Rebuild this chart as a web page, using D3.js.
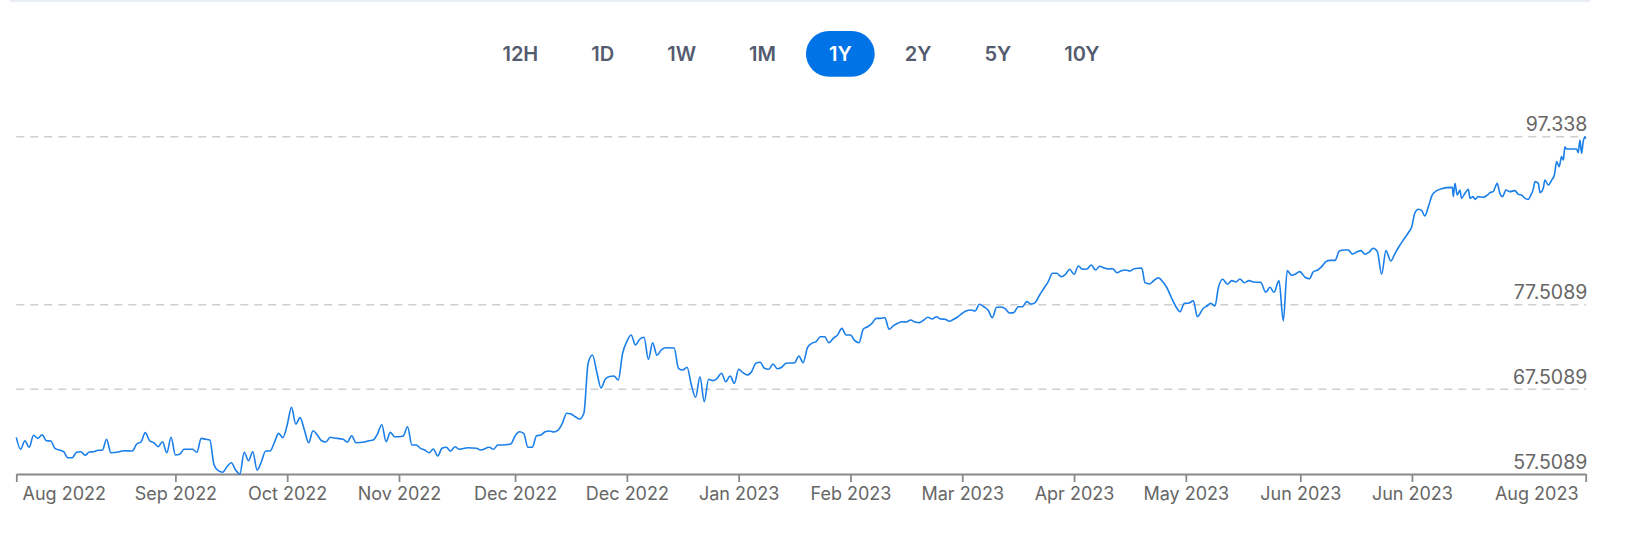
<!DOCTYPE html>
<html><head><meta charset="utf-8">
<script src="https://cdn.jsdelivr.net/npm/d3@7"></script>
<style>
html,body{margin:0;padding:0;background:#fff;}
svg{display:block;font-family:Inter,"Noto Sans",sans-serif;}
</style></head><body>
<svg id="chart" width="1630" height="550"></svg>
<script>
const ranges = ["12H","1D","1W","1M","1Y","2Y","5Y","10Y"];
const activeRange = "1Y";

const dates = [
"2022-08-08","2022-08-09","2022-08-10","2022-08-11","2022-08-12","2022-08-13","2022-08-14","2022-08-15","2022-08-16","2022-08-17","2022-08-19","2022-08-20","2022-08-21","2022-08-22","2022-08-23","2022-08-24","2022-08-25","2022-08-26","2022-08-27","2022-08-28","2022-08-29","2022-08-30",
"2022-09-01","2022-09-02","2022-09-04","2022-09-05","2022-09-06","2022-09-07","2022-09-08","2022-09-09","2022-09-10","2022-09-11","2022-09-12","2022-09-13","2022-09-14","2022-09-15","2022-09-16","2022-09-18","2022-09-19","2022-09-20","2022-09-21","2022-09-22","2022-09-23","2022-09-24","2022-09-25","2022-09-26","2022-09-27","2022-09-28","2022-09-29","2022-09-30",
"2022-10-01","2022-10-02","2022-10-03","2022-10-04","2022-10-05","2022-10-06","2022-10-07","2022-10-08","2022-10-09","2022-10-10","2022-10-11","2022-10-12","2022-10-13","2022-10-14","2022-10-15","2022-10-16","2022-10-17","2022-10-18","2022-10-19","2022-10-20","2022-10-21","2022-10-23","2022-10-24","2022-10-25","2022-10-26","2022-10-28","2022-10-29","2022-10-30","2022-10-31",
"2022-11-01","2022-11-02","2022-11-03","2022-11-04","2022-11-05","2022-11-06","2022-11-07","2022-11-08","2022-11-09","2022-11-10","2022-11-11","2022-11-12","2022-11-13","2022-11-14","2022-11-15","2022-11-16","2022-11-17","2022-11-18","2022-11-19","2022-11-21","2022-11-23","2022-11-24","2022-11-26","2022-11-27","2022-11-28","2022-11-29",
"2022-12-01","2022-12-02","2022-12-03","2022-12-04","2022-12-05","2022-12-06","2022-12-07","2022-12-08","2022-12-09","2022-12-10","2022-12-11","2022-12-12","2022-12-13","2022-12-14","2022-12-15","2022-12-16","2022-12-17","2022-12-18","2022-12-19","2022-12-20","2022-12-21","2022-12-22","2022-12-23","2022-12-24","2022-12-25","2022-12-26","2022-12-27","2022-12-28","2022-12-29","2022-12-30","2022-12-31",
"2023-01-01","2023-01-02","2023-01-03","2023-01-04","2023-01-05","2023-01-06","2023-01-08","2023-01-09","2023-01-10","2023-01-11","2023-01-12","2023-01-13","2023-01-14","2023-01-15","2023-01-16","2023-01-17","2023-01-18","2023-01-19","2023-01-20","2023-01-21","2023-01-22","2023-01-23","2023-01-24","2023-01-25","2023-01-26","2023-01-27","2023-01-28","2023-01-29","2023-01-30","2023-01-31",
"2023-02-01","2023-02-02","2023-02-03","2023-02-05","2023-02-06","2023-02-07","2023-02-08","2023-02-09","2023-02-10","2023-02-11","2023-02-12","2023-02-13","2023-02-14","2023-02-15","2023-02-16","2023-02-17","2023-02-18","2023-02-19","2023-02-20","2023-02-21","2023-02-22","2023-02-23","2023-02-24","2023-02-25","2023-02-26","2023-02-27","2023-02-28",
"2023-03-01","2023-03-02","2023-03-03","2023-03-04","2023-03-05","2023-03-06","2023-03-07","2023-03-08","2023-03-09","2023-03-10","2023-03-11","2023-03-12","2023-03-13","2023-03-14","2023-03-15","2023-03-16","2023-03-17","2023-03-18","2023-03-19","2023-03-20","2023-03-21","2023-03-22","2023-03-23","2023-03-24","2023-03-25","2023-03-26","2023-03-27","2023-03-28","2023-03-29","2023-03-30","2023-03-31",
"2023-04-01","2023-04-02","2023-04-03","2023-04-04","2023-04-05","2023-04-06","2023-04-07","2023-04-08","2023-04-09","2023-04-10","2023-04-11","2023-04-12","2023-04-13","2023-04-14","2023-04-15","2023-04-16","2023-04-17","2023-04-18","2023-04-19","2023-04-20","2023-04-21","2023-04-22","2023-04-23","2023-04-24","2023-04-25",
"2023-04-26 18","2023-04-27 12","2023-04-28 12","2023-04-29 11","2023-04-30 14",
"2023-05-01 15","2023-05-02 13","2023-05-03 17","2023-05-04 17","2023-05-05 16","2023-05-06 16","2023-05-07 14","2023-05-08 18","2023-05-09 16","2023-05-11 02","2023-05-12 00","2023-05-12 19","2023-05-13 19","2023-05-14 13","2023-05-15 14","2023-05-16 16","2023-05-17 16","2023-05-18 16","2023-05-19 14","2023-05-20 14","2023-05-21 17","2023-05-22 17","2023-05-24 10","2023-05-25 14","2023-05-26 14","2023-05-27 12","2023-05-28 16","2023-05-29 16","2023-05-30 14","2023-05-31 15",
"2023-06-01 13","2023-06-02 12","2023-06-03 18","2023-06-04 18","2023-06-05 16","2023-06-06 16","2023-06-07 14","2023-06-08 14","2023-06-09 13","2023-06-10 17","2023-06-11 17","2023-06-12 19","2023-06-13 19","2023-06-14 17","2023-06-15 18","2023-06-16 18","2023-06-17 16","2023-06-18 16","2023-06-19 14","2023-06-20 13","2023-06-21 13","2023-06-22 13","2023-06-23 16","2023-06-24 16","2023-06-25 16","2023-06-26 18","2023-06-27 18","2023-06-28 13","2023-06-29 07","2023-06-30 02","2023-06-30 21",
"2023-07-01 14","2023-07-02 09","2023-07-03 07","2023-07-04 08","2023-07-05 12","2023-07-06 17","2023-07-08 00",
"2023-07-08 05","2023-07-08 14","2023-07-09 03","2023-07-09 18","2023-07-10 03","2023-07-10 22","2023-07-11 17","2023-07-12 02","2023-07-12 20","2023-07-13 06","2023-07-14 00","2023-07-15 04","2023-07-16 03","2023-07-16 18","2023-07-17 12","2023-07-18 10","2023-07-19 01","2023-07-19 16","2023-07-20 11","2023-07-21 09","2023-07-22 13","2023-07-23 08","2023-07-24 02","2023-07-24 21","2023-07-25 15","2023-07-26 06","2023-07-26 19","2023-07-27 05","2023-07-27 23","2023-07-28 09","2023-07-29 03","2023-07-29 12","2023-07-30 07","2023-07-31 02","2023-07-31 17",
"2023-08-01 06","2023-08-01 20","2023-08-02 09","2023-08-02 19","2023-08-03 04","2023-08-03 13","2023-08-05 21","2023-08-06 06","2023-08-06 16","2023-08-07 01","2023-08-07 10","2023-08-07 20","2023-08-08 00"
];

const values = [
61.84,60.43,61.44,60.66,62.08,61.72,62.15,61.44,61.41,60.54,60.14,59.43,59.43,60.07,60.14,59.72,60.11,60.14,60.31,60.31,61.61,60.02,
60.14,60.26,60.22,61.05,61.29,62.39,61.44,61.20,60.73,61.32,60.02,61.84,59.75,59.83,60.43,60.43,60.07,61.72,61.61,61.52,58.57,57.90,57.71,58.37,58.84,57.98,57.51,60.07,
59.08,60.14,57.98,58.96,60.22,60.22,61.20,62.31,61.80,63.29,65.38,63.41,64.16,62.70,61.20,62.62,62.11,61.44,61.29,61.84,61.76,61.61,61.29,62.03,61.20,61.29,61.44,61.52,62.23,
63.33,61.32,62.43,61.91,61.91,62.00,63.09,60.93,60.93,60.54,60.34,60.02,60.46,59.63,60.54,60.66,60.22,60.73,60.43,60.61,60.54,60.34,60.66,60.43,60.93,60.93,
61.05,62.00,62.50,62.31,60.66,60.66,62.03,62.11,62.50,62.59,62.47,62.70,63.50,64.68,64.59,64.27,64.00,64.68,70.62,71.56,69.55,67.66,68.73,69.02,69.08,68.61,71.73,73.15,73.92,72.74,73.42,
73.65,71.05,73.01,71.53,72.15,72.42,72.39,69.99,69.79,70.11,68.02,66.57,69.00,66.05,68.69,68.53,68.81,69.40,68.41,69.08,68.22,69.87,69.47,69.20,69.59,70.58,70.70,69.99,69.87,70.50,
69.94,70.11,70.58,70.65,71.44,70.65,72.42,72.94,73.13,73.72,73.72,73.01,73.53,73.92,74.71,73.92,73.92,73.25,73.01,74.63,74.90,75.30,75.89,75.89,75.97,74.60,75.02,
75.30,75.49,75.46,75.69,75.46,75.38,75.66,76.01,75.81,76.08,75.81,75.78,75.54,75.78,76.08,76.49,76.79,76.87,76.76,77.55,77.26,76.87,75.97,77.19,77.23,77.03,76.52,76.56,77.26,77.26,77.86,
77.58,77.78,78.65,79.44,80.22,81.21,81.21,80.81,81.09,81.68,81.09,82.07,81.68,81.72,82.19,81.60,82.04,81.83,81.72,81.75,81.28,81.52,81.60,81.48,81.75,
81.83,80.10,79.95,80.30,80.69,
80.22,79.56,78.26,77.26,76.67,77.67,77.67,77.97,76.08,77.08,77.38,77.67,77.35,79.44,80.50,79.91,80.34,80.18,80.54,80.10,80.34,80.18,80.14,78.97,79.56,78.97,80.34,75.58,81.52,80.97,
81.13,81.40,80.74,80.57,81.40,81.60,81.99,82.58,82.74,82.74,83.84,83.96,83.96,83.49,83.72,83.88,83.45,83.72,84.16,83.76,81.09,83.88,82.66,83.57,84.43,85.26,86.00,86.71,88.36,88.77,88.60,
87.97,89.00,90.45,90.96,91.20,91.32,91.36,
90.26,91.83,90.45,91.04,90.06,90.65,91.12,90.06,90.26,89.94,90.26,90.18,90.45,90.73,90.85,91.83,90.65,90.26,91.04,90.85,90.97,90.53,90.45,90.06,89.94,90.45,91.12,92.03,91.83,90.73,91.24,92.22,91.63,92.22,92.81,
94.39,93.80,94.98,94.59,96.16,95.89,95.89,95.45,96.95,95.37,96.75,97.338,97.10
];

const yTickValues = [57.5089, 67.5089, 77.5089, 97.338];
const yTickLabels = ["57.5089", "67.5089", "77.5089", "97.338"];
const xTickDates = ["2022-08-08","2022-09-14","2022-10-10","2022-11-05","2022-12-02","2022-12-28","2023-01-23","2023-02-18","2023-03-16","2023-04-11","2023-05-07","2023-06-02 15","2023-06-28 14","2023-08-08"];
const xTickLabels = ["Aug 2022","Sep 2022","Oct 2022","Nov 2022","Dec 2022","Dec 2022","Jan 2023","Feb 2023","Mar 2023","Apr 2023","May 2023","Jun 2023","Jun 2023","Aug 2023"];

const pD = d3.utcParse("%Y-%m-%d"), pH = d3.utcParse("%Y-%m-%d %H");
const parse = s => s.length > 10 ? pH(s) : pD(s);
const data = dates.map((d, i) => ({date: parse(d), value: values[i]}));
const tickDates = xTickDates.map(parse);

const svg = d3.select("#chart");
const L = 16.3, R = 1585.7, T = 136.7, B = 474;

const x = d3.scaleUtc().domain([tickDates[0], tickDates[tickDates.length - 1]]).range([L, R]);
const y = d3.scaleLinear().domain([yTickValues[0], yTickValues[yTickValues.length - 1]]).range([B, T]);

// top border
svg.append("rect").attr("x", 10).attr("y", 0).attr("width", 1580).attr("height", 2).attr("fill", "#e9eef5");

// range buttons
const btnG = svg.append("g");
const tmp = btnG.selectAll("text.m").data(ranges).join("text").attr("class","m")
  .attr("font-size", 20).attr("font-weight", 600).text(d => d);
const widths = tmp.nodes().map(n => n.getComputedTextLength());
tmp.remove();
const pad = 23, gap = 7;
const bw = widths.map(w => w + 2 * pad);
const total = d3.sum(bw) + gap * (ranges.length - 1);
let cur = 801 - total / 2;
const centers = bw.map(w => { const c = cur + w / 2; cur += w + gap; return c; });
const btn = btnG.selectAll("g.btn").data(ranges).join("g").attr("class", "btn");
btn.filter(d => d === activeRange).append("rect")
  .attr("x", (d) => centers[ranges.indexOf(d)] - bw[ranges.indexOf(d)] / 2)
  .attr("y", 31).attr("width", d => bw[ranges.indexOf(d)]).attr("height", 45.7)
  .attr("rx", 22.85).attr("fill", "#0073e6");
btn.append("text")
  .attr("x", (d, i) => centers[i]).attr("y", 61)
  .attr("text-anchor", "middle").attr("font-size", 20).attr("font-weight", 600)
  .attr("fill", d => d === activeRange ? "#ffffff" : "#555b6e")
  .text(d => d);

// grid
svg.append("g").selectAll("line").data(yTickValues.slice(1)).join("line")
  .attr("x1", L).attr("x2", 1586).attr("y1", d => y(d)).attr("y2", d => y(d))
  .attr("stroke", "#cfcfcf").attr("stroke-width", 1.5).attr("stroke-dasharray", "8,6");

// y labels
svg.append("g").selectAll("text").data(yTickValues).join("text")
  .attr("x", 1587.3).attr("y", d => y(d) - 5.5)
  .attr("text-anchor", "end").attr("font-size", 19.5).attr("fill", "#666")
  .text((d, i) => yTickLabels[i]);

// x axis
const xAxis = d3.axisBottom(x).tickValues(tickDates).tickSize(8).tickSizeOuter(0)
  .tickFormat((d, i) => xTickLabels[i]);
const gx = svg.append("g").attr("transform", `translate(0,${B})`).call(xAxis);
gx.select(".domain").attr("stroke", "#8a8a8a").attr("stroke-width", 1.8);
gx.selectAll(".tick line").attr("stroke", "#8a8a8a").attr("stroke-width", 1.8);
gx.selectAll(".tick text").attr("font-size", 18).attr("fill", "#666")
  .attr("font-family", "Inter,'Noto Sans',sans-serif").attr("dy", null).attr("y", 25.5);
gx.selectAll(".tick text").each(function(d) {
  const w = this.getComputedTextLength();
  const c = x(d);
  let shift = 0;
  if (c - w / 2 < 22) shift = 22 - (c - w / 2);
  if (c + w / 2 > 1578) shift = 1578 - (c + w / 2);
  d3.select(this).attr("x", shift);
});

// line
const line = d3.line().x(d => x(d.date)).y(d => y(d.value)).curve(d3.curveMonotoneX);
svg.append("path").datum(data).attr("d", line)
  .attr("fill", "none").attr("stroke", "#1a7fe9").attr("stroke-width", 1.6)
  .attr("stroke-linejoin", "round");
</script>
</body></html>
